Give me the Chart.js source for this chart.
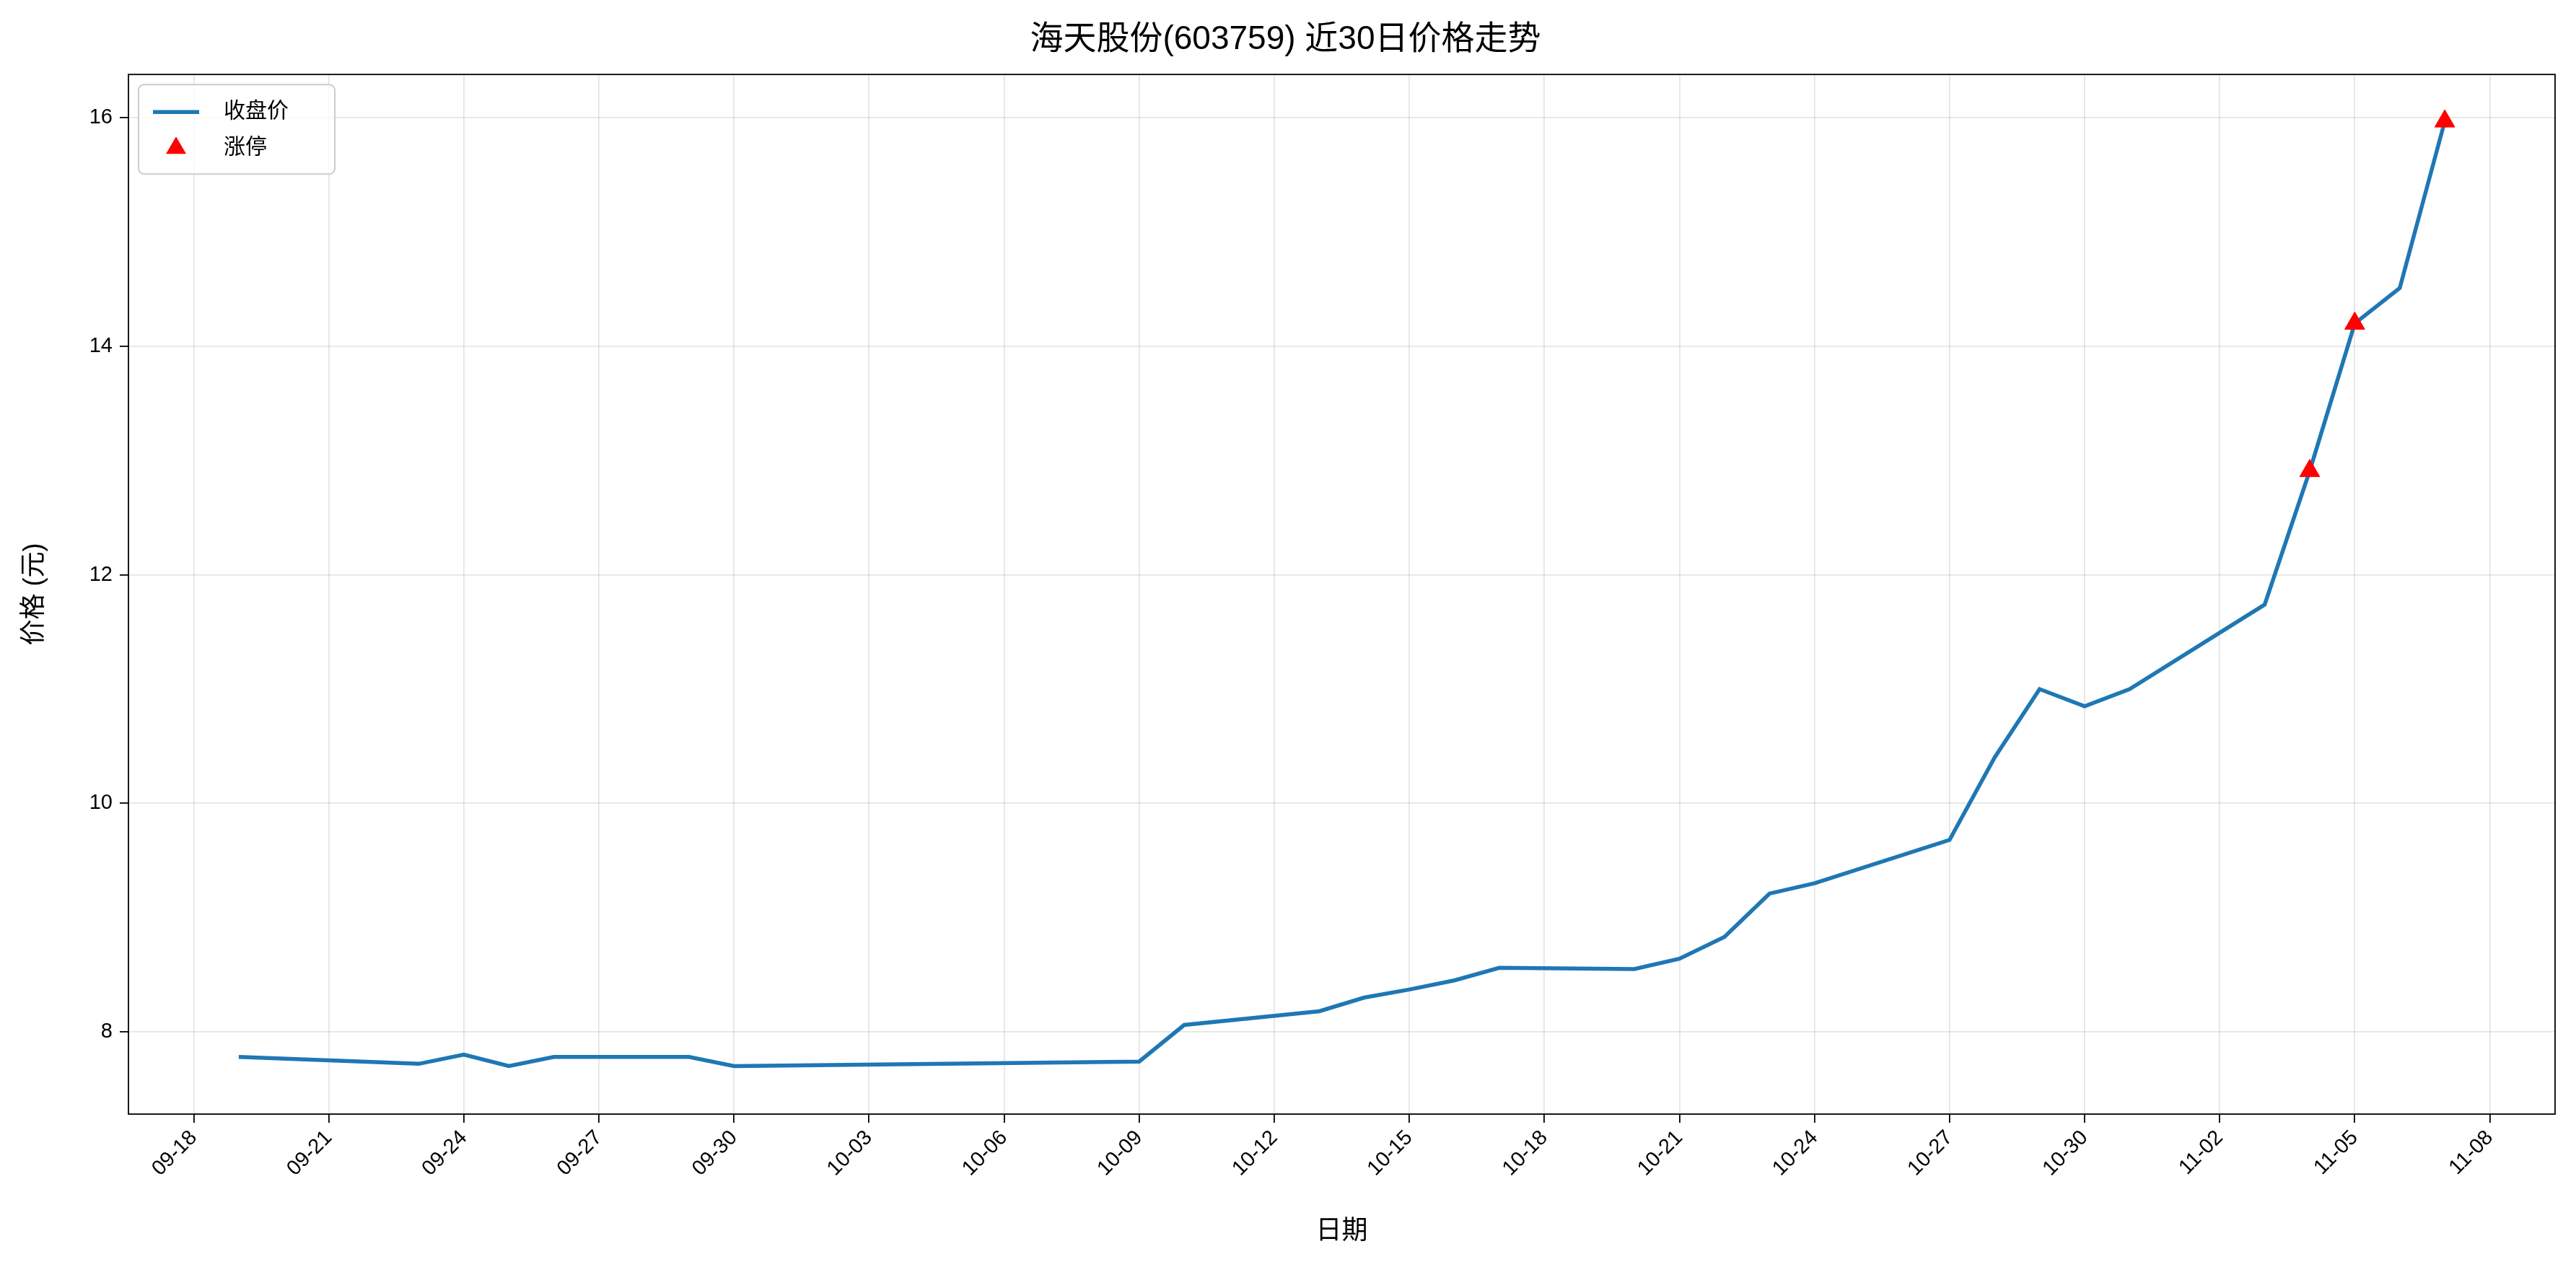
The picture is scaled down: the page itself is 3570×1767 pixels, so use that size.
<!DOCTYPE html>
<html><head><meta charset="utf-8">
<script src="https://cdn.jsdelivr.net/npm/chart.js@4/dist/chart.umd.min.js"></script>
<style>html,body{margin:0;background:#fff}#c{display:block}</style>
</head><body>
<div style="width:3570px;height:1767px"><canvas id="c"></canvas></div>
<script>
// days counted from 09-18 (day 0)
const dates = ['09-19','09-23','09-24','09-25','09-26','09-29','09-30','10-09','10-10','10-13','10-14','10-15','10-16','10-17','10-20','10-21','10-22','10-23','10-24','10-27','10-28','10-29','10-30','10-31','11-03','11-04','11-05','11-06','11-07'];
const closes = [7.78,7.72,7.80,7.70,7.78,7.78,7.70,7.74,8.06,8.18,8.30,8.37,8.45,8.56,8.55,8.64,8.83,9.21,9.30,9.68,10.40,11.00,10.85,11.00,11.74,12.91,14.20,14.51,15.97];
const limitUpDates = ['11-04','11-05','11-07'];
const tickDays = [0,3,6,9,12,15,18,21,24,27,30,33,36,39,42,45,48,51];
const yTicks = [8,10,12,14,16];

const FONT = '"Liberation Sans", Arial, "Noto Sans CJK SC", sans-serif';
function toDay(md){ const [m,d]=md.split('-').map(Number); return m===9? d-18 : m===10? d+12 : d+43; }
function toLabel(n){ if(n<=12) return '09-'+String(n+18).padStart(2,'0'); if(n<=43) return '10-'+String(n-12).padStart(2,'0'); return '11-'+String(n-43).padStart(2,'0'); }

const lineData = dates.map((d,i)=>({x:toDay(d), y:closes[i]}));
const upData = limitUpDates.map(d=>({x:toDay(d), y:closes[dates.indexOf(d)]}));

const frame = {
  id:'frame',
  afterDraw(c){
    const {ctx, chartArea:a} = c;
    ctx.save();
    ctx.strokeStyle='#000'; ctx.lineWidth=1.8;
    ctx.strokeRect(a.left,a.top,a.right-a.left,a.bottom-a.top);
    // legend
    const x=a.left+14, y=a.top+14, w=272, h=124;
    ctx.fillStyle='rgba(255,255,255,0.8)'; ctx.strokeStyle='#ccc'; ctx.lineWidth=2;
    ctx.beginPath(); ctx.roundRect(x,y,w,h,8); ctx.fill(); ctx.stroke();
    ctx.strokeStyle='#1f77b4'; ctx.lineWidth=5.5;
    ctx.beginPath(); ctx.moveTo(x+20,y+38); ctx.lineTo(x+84,y+38); ctx.stroke();
    ctx.fillStyle='red';
    ctx.beginPath(); ctx.moveTo(x+52,y+72); ctx.lineTo(x+66,y+96); ctx.lineTo(x+38,y+96); ctx.closePath(); ctx.fill();
    ctx.fillStyle='#000'; ctx.font='30px '+FONT; ctx.textBaseline='middle';
    ctx.fillText('收盘价',x+118,y+38); ctx.fillText('涨停',x+118,y+88);
    ctx.restore();
  }
};

new Chart(document.getElementById('c'),{
  type:'line',
  data:{datasets:[
    {label:'收盘价',data:lineData,borderColor:'#1f77b4',borderWidth:5.5,pointRadius:0,tension:0,order:2},
    {type:'scatter',label:'涨停',data:upData,backgroundColor:'red',borderColor:'red',pointStyle:'triangle',pointRadius:16,order:1}
  ]},
  options:{
    responsive:true,maintainAspectRatio:false,animation:false,devicePixelRatio:1,
    layout:{padding:{left:22,right:29,top:0,bottom:34}},
    plugins:{
      legend:{display:false},tooltip:{enabled:false},
      title:{display:true,text:'海天股份(603759) 近30日价格走势',color:'#000',font:{family:FONT,size:46,weight:'normal'},padding:{top:28,bottom:20}}
    },
    scales:{
      x:{type:'linear',min:-1.45,max:52.45,
        afterBuildTicks(s){ s.ticks = tickDays.map(v=>({value:v})); },
        afterFit(s){ s.height=189; },
        ticks:{callback:v=>toLabel(v),maxRotation:45,minRotation:45,color:'#000',font:{family:FONT,size:29},padding:4},
        grid:{color:'rgba(0,0,0,0.1)',lineWidth:1.8,tickLength:12,tickColor:'#000'},
        border:{display:false},
        title:{display:true,text:'日期',color:'#000',font:{family:FONT,size:36},padding:{top:0}}
      },
      y:{min:7.28,max:16.38,
        afterBuildTicks(s){ s.ticks = yTicks.map(v=>({value:v})); },
        afterFit(s){ s.width=156; },
        ticks:{color:'#000',font:{family:FONT,size:29},padding:10},
        grid:{color:'rgba(0,0,0,0.1)',lineWidth:1.8,tickLength:12,tickColor:'#000'},
        border:{display:false},
        title:{display:true,text:'价格 (元)',color:'#000',font:{family:FONT,size:36},padding:{bottom:8}}
      }
    }
  },
  plugins:[frame]
});
</script>
</body></html>
